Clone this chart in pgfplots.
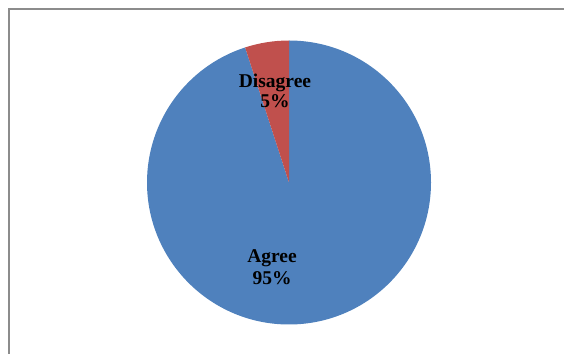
\documentclass[border=0pt]{standalone}
\usepackage{pgfplots}
\usepackage{pgfplotstable}
\pgfplotsset{compat=1.18}
\usepackage{fontspec}
\setmainfont{Liberation Serif}
\definecolor{pieblue}{HTML}{4F81BD}
\definecolor{piered}{HTML}{C0504D}
\definecolor{framegray}{HTML}{8C8C8C}
\pgfplotstableread{
label value
Agree 95
Disagree 5
}\piedata
\begin{document}
\begin{tikzpicture}
\clip (0,0) rectangle (564bp,354bp);
\begin{axis}[
  at={(0,0)}, anchor=origin,
  scale only axis, width=564bp, height=354bp,
  xmin=0, xmax=564, ymin=0, ymax=354,
  hide axis, clip=false,
]
\addplot[draw=none] coordinates {(0,0)};
% frame (extends beyond the page on the right and bottom)
\draw[framegray, line width=1.2bp] (axis cs:9,-20) -- (axis cs:9,345) -- (axis cs:600,345);
% pie slices, clockwise from 12 o'clock
\pgfplotstablegetelem{0}{value}\of\piedata \let\va\pgfplotsretval
\pgfplotstablegetelem{1}{value}\of\piedata \let\vb\pgfplotsretval
\pgfmathsetmacro{\aA}{90}
\pgfmathsetmacro{\aB}{90-3.6*\va}
\pgfmathsetmacro{\aC}{\aB-3.6*\vb}
\fill[pieblue] (axis cs:289,171.5) -- ++(\aA:142bp) arc[start angle=\aA, end angle=\aB, radius=142bp] -- cycle;
\fill[piered] (axis cs:289,171.5) -- ++(\aB:142bp) arc[start angle=\aB, end angle=\aC, radius=142bp] -- cycle;
% labels
\begin{scope}[every node/.style={font=\fontsize{19.5bp}{22bp}\selectfont\bfseries, inner sep=0pt, anchor=base}]
\node at (axis cs:275,266) {Disagree};
\node at (axis cs:275,246) {5\%};
\node at (axis cs:272,91) {Agree};
\node at (axis cs:272,69) {95\%};
\end{scope}
\end{axis}
\end{tikzpicture}
\end{document}
